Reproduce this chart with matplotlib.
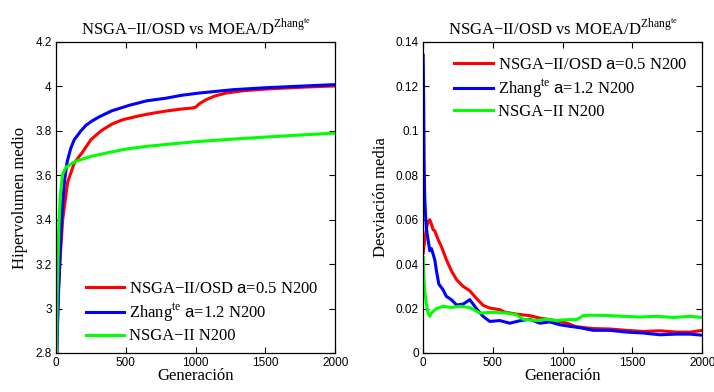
import matplotlib
matplotlib.use('Agg')
import matplotlib.pyplot as plt
from matplotlib.ticker import FormatStrFormatter

plt.rcParams['font.family'] = ['Liberation Serif', 'DejaVu Serif']
plt.rcParams['mathtext.fontset'] = 'custom'
plt.rcParams['mathtext.rm'] = 'Liberation Serif'
plt.rcParams['mathtext.sf'] = 'Liberation Sans'

# hipervolumen medio (left panel)
hv_red_gen = [1, 5, 15, 29, 48, 84, 131, 191, 250, 323, 400, 478, 600, 700, 800, 900, 980, 1000, 1027, 1075,
              1140, 1218, 1350, 1505, 1750, 2000]
hv_red = [2.6, 2.8, 3.05, 3.22, 3.40, 3.57, 3.655, 3.705, 3.76, 3.80, 3.83, 3.85, 3.868, 3.88, 3.89, 3.898,
          3.903, 3.906, 3.922, 3.94, 3.957, 3.97, 3.981, 3.988, 3.996, 4.002]

hv_blue_gen = [1, 10, 20, 33, 45, 62, 80, 105, 131, 179, 215, 260, 310, 400, 526, 650, 790, 900, 1027, 1266,
               1505, 1750, 2000]
hv_blue = [2.6, 2.9, 3.1, 3.3, 3.45, 3.58, 3.66, 3.72, 3.76, 3.80, 3.825, 3.845, 3.863, 3.89, 3.915, 3.935,
           3.947, 3.96, 3.97, 3.985, 3.994, 4.001, 4.008]

hv_green_gen = [1, 5, 10, 20, 30, 45, 70, 130, 250, 400, 502, 650, 812, 1000, 1250, 1505, 1750, 2000]
hv_green = [2.6, 2.85, 3.1, 3.35, 3.5, 3.6, 3.635, 3.66, 3.685, 3.705, 3.718, 3.73, 3.74, 3.751, 3.762,
            3.772, 3.781, 3.79]

# desviacion media (right panel)
dv_red_gen = [1, 5, 15, 30, 48, 60, 72, 84, 108, 131, 155, 167, 203, 240, 287, 335, 382, 430, 478, 550,
              585, 669, 765, 837, 932, 1028, 1099, 1219, 1338, 1458, 1577, 1697, 1816, 1912, 2000]
dv_red = [0.045, 0.047, 0.052, 0.058, 0.060, 0.058, 0.0555, 0.055, 0.051, 0.048, 0.044, 0.042, 0.037, 0.033,
          0.030, 0.028, 0.0246, 0.0215, 0.0202, 0.0195, 0.0184, 0.0175, 0.0168, 0.0157, 0.0148, 0.0135, 0.0118,
          0.0110, 0.0108, 0.0102, 0.0097, 0.0100, 0.0094, 0.0094, 0.0102]

dv_blue_gen = [1, 5, 8, 12, 18, 24, 36, 48, 60, 84, 96, 113, 143, 167, 203, 240, 287, 335, 382, 430, 478,
               550, 621, 693, 765, 837, 908, 980, 1052, 1123, 1219, 1338, 1458, 1577, 1697, 1816, 1912, 2000]
dv_blue = [0.134, 0.11, 0.085, 0.070, 0.062, 0.056, 0.051, 0.046, 0.047, 0.042, 0.037, 0.031, 0.0285, 0.0255,
           0.024, 0.0216, 0.022, 0.024, 0.020, 0.0165, 0.0142, 0.0146, 0.0134, 0.0145, 0.0152, 0.0134, 0.014,
           0.0127, 0.012, 0.0114, 0.0102, 0.0102, 0.0094, 0.009, 0.0082, 0.0085, 0.0085, 0.008]

dv_green_gen = [1, 5, 12, 24, 36, 48, 60, 96, 143, 203, 263, 335, 406, 502, 597, 669, 717, 812, 884, 956,
                1028, 1099, 1147, 1195, 1315, 1434, 1554, 1673, 1793, 1912, 2000]
dv_green = [0.043, 0.035, 0.028, 0.022, 0.018, 0.0165, 0.018, 0.020, 0.021, 0.0205, 0.021, 0.0205, 0.018,
            0.0183, 0.018, 0.0172, 0.0152, 0.0146, 0.0152, 0.0146, 0.015, 0.015, 0.0168, 0.017, 0.0169,
            0.0165, 0.0162, 0.0165, 0.016, 0.0165, 0.016]

labels = ['NSGA\u2212II/OSD $\\mathsf{a}$=0.5 N200',
          'Zhang$^{\\mathrm{te}}$ $\\mathsf{a}$=1.2 N200',
          'NSGA\u2212II N200']
title = 'NSGA\u2212II/OSD vs MOEA/D$^{\\mathrm{Zhang}^{\\mathrm{te}}}$'
x_ticks = [0, 500, 1000, 1500, 2000]

fig = plt.figure(figsize=(7.14, 3.92), dpi=100)
ax1 = fig.add_axes([0.0784, 0.0995, 0.391, 0.7935])
ax2 = fig.add_axes([0.5925, 0.0995, 0.391, 0.7935])

lw = 2.2
ax1.plot(hv_red_gen, hv_red, color='red', lw=lw, label=labels[0])
ax1.plot(hv_blue_gen, hv_blue, color='blue', lw=lw, label=labels[1])
ax1.plot(hv_green_gen, hv_green, color='lime', lw=lw, label=labels[2])
ax1.set_ylim(2.8, 4.2)
ax1.set_yticks([2.8, 3.0, 3.2, 3.4, 3.6, 3.8, 4.0, 4.2])
ax1.set_ylabel('Hipervolumen medio', fontsize=12, labelpad=5)
ax1.legend(loc='lower left', bbox_to_anchor=(0.065, -0.01), frameon=False, fontsize=12,
           handlelength=2.3, labelspacing=0.25, handletextpad=0.3, borderpad=0.2)

ax2.plot(dv_red_gen, dv_red, color='red', lw=lw, label=labels[0])
ax2.plot(dv_blue_gen, dv_blue, color='blue', lw=lw, label=labels[1])
ax2.plot(dv_green_gen, dv_green, color='lime', lw=lw, label=labels[2])
ax2.set_ylim(0, 0.14)
ax2.set_yticks([0, 0.02, 0.04, 0.06, 0.08, 0.1, 0.12, 0.14])
ax2.set_ylabel('Desviación media', fontsize=12, labelpad=5)
ax2.legend(loc='upper left', bbox_to_anchor=(0.07, 0.99), frameon=False, fontsize=12,
           handlelength=2.3, labelspacing=0.25, handletextpad=0.3, borderpad=0.2)

for ax in (ax1, ax2):
    ax.set_xlim(0, 2000)
    ax.set_xticks(x_ticks)
    ax.yaxis.set_major_formatter(FormatStrFormatter('%g'))
    ax.tick_params(direction='in', top=True, right=True, length=4, width=0.8,
                   labelsize=8.5, pad=3)
    for lab in ax.get_xticklabels() + ax.get_yticklabels():
        lab.set_fontfamily('Liberation Sans')
    ax.set_xlabel('Generación', fontsize=12, labelpad=-1)
    ax.set_title(title, fontsize=12, pad=5)
    for s in ax.spines.values():
        s.set_linewidth(0.9)

fig.savefig('out.png', dpi=100)
